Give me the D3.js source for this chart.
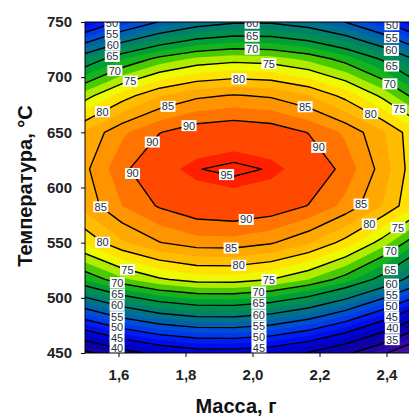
<!DOCTYPE html>
<html>
<head>
<meta charset="utf-8">
<script src="https://cdn.jsdelivr.net/npm/d3@7"></script>
<style>
  body { margin: 0; background: #fff; }
  svg { display: block; }
  text { font-family: "Liberation Sans", Arial, sans-serif; }
</style>
</head>
<body>
<svg id="chart" width="409" height="417"></svg>
<script>
// Grid nodes of the fitted response surface (yield, %) over mass and temperature
const massValues = [1.5, 1.6111, 1.7222, 1.8333, 1.9444, 2.0556, 2.1667, 2.2778, 2.3889, 2.5];
const tempValues = [450, 483.3, 516.7, 550, 583.3, 616.7, 650, 683.3, 716.7, 750];

// One row per temperature, values listed along massValues
const yieldAt450 = [33.9, 38.3, 41.3, 43.0, 43.2, 42.2, 39.7, 35.9, 30.8, 24.2];
const yieldAt483 = [51.6, 55.8, 58.7, 60.2, 60.3, 59.0, 56.4, 52.4, 47.0, 40.3];
const yieldAt517 = [67.8, 71.9, 74.6, 76.1, 76.2, 75.0, 72.5, 68.7, 63.6, 57.2];
const yieldAt550 = [78.0, 82.1, 84.9, 86.4, 86.5, 85.3, 82.8, 79.0, 73.8, 67.3];
const yieldAt583 = [83.4, 87.5, 90.3, 92.0, 92.5, 91.8, 89.9, 86.7, 82.4, 76.9];
const yieldAt617 = [84.4, 89.3, 92.9, 94.9, 95.6, 94.8, 92.6, 89.0, 83.9, 77.4];
const yieldAt650 = [82.8, 87.0, 89.9, 91.7, 92.3, 91.7, 89.9, 87.0, 82.8, 77.5];
const yieldAt683 = [73.8, 78.7, 82.3, 84.4, 85.2, 84.6, 82.6, 79.1, 74.3, 68.1];
const yieldAt717 = [62.5, 67.3, 70.8, 73.0, 73.9, 73.5, 71.8, 68.8, 64.5, 58.9];
const yieldAt750 = [45.0, 50.9, 55.2, 58.1, 59.5, 59.5, 57.9, 54.9, 50.4, 44.4];

const massTicks = [1.6, 1.8, 2.0, 2.2, 2.4];
const tempTicks = [450, 500, 550, 600, 650, 700, 750];
const lineLevels = [30, 35, 40, 45, 50, 55, 60, 65, 70, 75, 80, 85, 90, 95];

// Where each isoline gets its value tag: [level, mass, temperature]
const labelLevels = [50, 55, 60, 65, 70, 75, 80, 60, 65, 70, 75, 80, 50, 55, 60, 65, 70, 75, 80,
  85, 85, 90, 90, 90, 90, 95, 85, 85, 90, 80, 75, 80, 85, 70, 80, 75, 65,
  75, 70, 65, 60, 55, 50, 45, 70, 65, 60, 55, 50, 45, 40, 60, 55, 50, 45, 40, 35];
const labelMass = [1.581, 1.581, 1.581, 1.581, 1.587, 1.634, 1.551, 1.999, 1.999, 1.999, 2.049, 1.960,
  2.416, 2.416, 2.416, 2.419, 2.419, 2.443, 2.357,
  1.745, 2.160, 1.810, 1.697, 2.207, 1.631, 1.921, 1.542, 2.324, 1.984, 2.354, 2.437, 1.551, 1.936,
  2.416, 1.960, 1.625, 2.416,
  2.049, 2.019, 2.019, 2.019, 2.019, 2.019, 2.019,
  1.596, 1.596, 1.596, 1.596, 1.596, 1.596, 1.596,
  2.416, 2.416, 2.416, 2.416, 2.416, 2.416];
const labelTemp = [748.2, 739.1, 731.0, 719.2, 707.4, 697.4, 669.3, 749.1, 737.3, 725.5, 713.7, 701.1,
  747.3, 736.4, 725.5, 711.9, 698.3, 673.0, 669.3,
  676.6, 676.6, 656.7, 642.2, 638.5, 610.4, 609.5, 580.5, 585.0, 565.1, 564.2, 562.4, 549.7, 543.4,
  540.6, 526.1, 523.4, 523.4,
  516.2, 502.6, 493.5, 484.5, 475.4, 466.3, 456.4,
  513.5, 502.6, 493.5, 482.6, 473.6, 464.5, 454.6,
  511.6, 502.6, 491.7, 482.6, 473.6, 462.7];

const yieldRows = [yieldAt450, yieldAt483, yieldAt517, yieldAt550, yieldAt583,
                   yieldAt617, yieldAt650, yieldAt683, yieldAt717, yieldAt750];

// ---- layout ----
const svg = d3.select("#chart");
const plot = { left: 85, top: 22, right: 420, bottom: 353 };

const x = d3.scaleLinear().domain([1.5, 2.5]).range([plot.left, plot.right]);
const y = d3.scaleLinear().domain([450, 750]).range([plot.bottom, plot.top]);

const nx = massValues.length, ny = tempValues.length;
const grid = yieldRows.flat();

// d3.contours places sample i at grid coordinate i + 0.5
const gxToMass = d3.scaleLinear().domain([0.5, nx - 0.5]).range([massValues[0], massValues[nx - 1]]);
const gyToTemp = d3.scaleLinear().domain([0.5, ny - 0.5]).range([tempValues[0], tempValues[ny - 1]]);

const toScreen = d3.geoTransform({
  point(gx, gy) { this.stream.point(x(gxToMass(gx)), y(gyToTemp(gy))); }
});
const path = d3.geoPath(toScreen);

// colour ramp: blue → teal → green → yellow → orange → red
const colour = d3.scaleLinear()
  .domain([22, 27.5, 32.5, 37.5, 42.5, 47.5, 52.5, 57.5, 62.5, 67.5, 71, 73.5, 76, 78.5, 81, 86, 89, 92, 96])
  .range(["#5a1a9c", "#4a10a4", "#2a06a8", "#0a00a0", "#0000c8", "#0010f4", "#0046e6", "#006a9a",
          "#00885a", "#00a82a", "#40c800", "#a8ea00", "#ecfc00", "#ffe600", "#ffbe00", "#ff9600",
          "#ff7000", "#ff4800", "#ff1a00"])
  .interpolate(d3.interpolateRgb);

const fillThresholds = d3.range(25, 90, 2.5).concat([90, 94]);

const defs = svg.append("defs");
defs.append("clipPath").attr("id", "plot-clip")
  .append("rect")
  .attr("x", plot.left).attr("y", plot.top)
  .attr("width", plot.right - plot.left).attr("height", plot.bottom - plot.top);

const area = svg.append("g").attr("clip-path", "url(#plot-clip)");

area.append("rect")
  .attr("x", plot.left).attr("y", plot.top)
  .attr("width", plot.right - plot.left).attr("height", plot.bottom - plot.top)
  .attr("fill", colour(22));

const bands = d3.contours().size([nx, ny]).thresholds(fillThresholds)(grid);
area.append("g")
  .selectAll("path")
  .data(bands)
  .join("path")
  .attr("d", path)
  .attr("fill", (d, i) => {
    const next = i + 1 < fillThresholds.length ? fillThresholds[i + 1] : d.value + 3;
    return colour((d.value + next) / 2);
  })
  .attr("stroke", "none");

const isolines = d3.contours().size([nx, ny]).thresholds(lineLevels)(grid);
area.append("g")
  .selectAll("path")
  .data(isolines)
  .join("path")
  .attr("d", path)
  .attr("fill", "none")
  .attr("stroke", "#000")
  .attr("stroke-width", 1.4)
  .attr("stroke-linejoin", "round");

// ---- value tags snapped onto their isolines ----
function screenRings(level) {
  const c = isolines.find(d => d.value === level);
  const rings = [];
  c.coordinates.forEach(poly => poly.forEach(ring => {
    rings.push(ring.map(([gx, gy]) => [x(gxToMass(gx)), y(gyToTemp(gy))]));
  }));
  return rings;
}

function snap(level, px, py) {
  let best = [px, py], bd = Infinity;
  screenRings(level).forEach(pts => {
    for (let i = 0; i < pts.length - 1; i++) {
      const [ax, ay] = pts[i], [bx, by] = pts[i + 1];
      const dx = bx - ax, dy = by - ay, L = dx * dx + dy * dy;
      let t = L ? ((px - ax) * dx + (py - ay) * dy) / L : 0;
      t = Math.max(0, Math.min(1, t));
      const qx = ax + t * dx, qy = ay + t * dy;
      if (qx < plot.left || qx > plot.right || qy < plot.top || qy > plot.bottom) continue;
      const d = (qx - px) ** 2 + (qy - py) ** 2;
      if (d < bd) { bd = d; best = [qx, qy]; }
    }
  });
  return best;
}

const tags = labelLevels.map((lv, i) => {
  const [sx, sy] = snap(lv, x(labelMass[i]), y(labelTemp[i]));
  return { level: lv, sx, sy };
});

const tagG = area.append("g")
  .selectAll("g")
  .data(tags)
  .join("g")
  .attr("transform", d => `translate(${d.sx},${d.sy})`);

tagG.append("rect")
  .attr("x", -7.5).attr("y", -5.5)
  .attr("width", 15).attr("height", 11)
  .attr("fill", "#fff");

tagG.append("text")
  .attr("text-anchor", "middle")
  .attr("dy", "0.36em")
  .attr("font-size", 11)
  .attr("fill", "#26303c")
  .text(d => d.level);

// ---- frame and axes ----
svg.append("rect")
  .attr("x", plot.left).attr("y", plot.top)
  .attr("width", plot.right - plot.left).attr("height", plot.bottom - plot.top)
  .attr("fill", "none").attr("stroke", "#000").attr("stroke-width", 1);

const yAxis = svg.append("g")
  .attr("transform", `translate(${plot.left},0)`)
  .call(d3.axisLeft(y).tickValues(tempTicks).tickSize(4).tickPadding(9));
const xAxis = svg.append("g")
  .attr("transform", `translate(0,${plot.bottom})`)
  .call(d3.axisBottom(x).tickValues(massTicks).tickSize(4).tickPadding(12)
        .tickFormat(d => d3.format(".1f")(d).replace(".", ",")));

[xAxis, yAxis].forEach(a => {
  a.select(".domain").remove();
  a.selectAll(".tick line").attr("stroke", "#000");
  a.selectAll(".tick text")
    .attr("font-family", "'Liberation Sans', Arial, sans-serif")
    .attr("font-size", 15)
    .attr("font-weight", "bold")
    .attr("fill", "#222");
});

svg.append("text")
  .attr("x", 236).attr("y", 413)
  .attr("text-anchor", "middle")
  .attr("font-size", 20)
  .attr("font-weight", "bold")
  .attr("fill", "#111")
  .text("Масса, г");

svg.append("text")
  .attr("transform", "translate(32,186) rotate(-90)")
  .attr("text-anchor", "middle")
  .attr("font-size", 20)
  .attr("font-weight", "bold")
  .attr("fill", "#111")
  .text("Температура, °C");
</script>
</body>
</html>
